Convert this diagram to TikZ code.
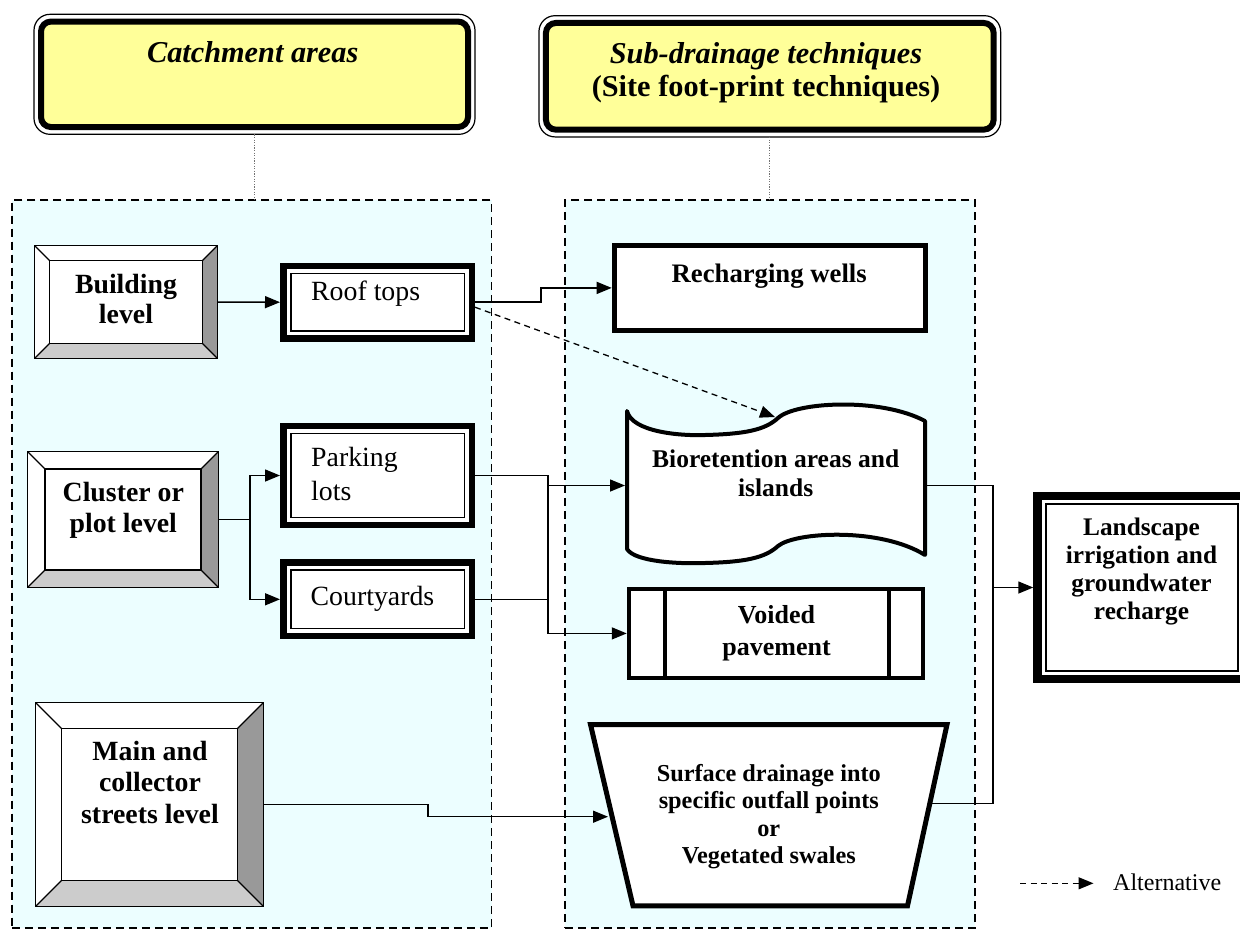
\documentclass[tikz,border=0pt]{standalone}
\usepackage{fontspec}
\setmainfont{Liberation Serif}
\usetikzlibrary{arrows.meta,calc}

% line strut: keeps every text line exactly one \baselineskip tall
\newcommand\lnstrut{\rule[-0.3\baselineskip]{0pt}{\baselineskip}}
\newcommand\fsz[2]{\fontsize{#1}{#2}\selectfont}

\definecolor{zonebg}{RGB}{236,254,255}
\definecolor{hdryellow}{RGB}{255,255,153}
\definecolor{bevdark}{RGB}{153,153,153}
\definecolor{bevlight}{RGB}{204,204,204}

\tikzset{
  x=1pt, y=-1pt,
  % dashed cyan zones
  zone/.style={draw, line width=1.3pt, dash pattern=on 8pt off 5pt, fill=zonebg,
    inner sep=0pt, outer sep=0pt},
  link/.style={draw=black!55, line width=1.2pt, dash pattern=on 1.2pt off 1.4pt},
  % header frames
  hdrbox/.style={draw, line width=6pt, fill=hdryellow, rounded corners=10pt, inner sep=0pt},
  hdrring/.style={draw, line width=1.2pt, rounded corners=16pt, inner sep=0pt, outer sep=0pt},
  % bevelled level boxes
  bevsize/.store in=\bevsz, bevsize=15pt,
  bevelbox/.style={draw, line width=1.3pt, fill=white, inner sep=0pt,
    path picture={
      \fill[bevdark] (path picture bounding box.north east)
        -- (path picture bounding box.south east)
        -- ([shift={(-\bevsz,\bevsz)}]path picture bounding box.south east)
        -- ([shift={(-\bevsz,-\bevsz)}]path picture bounding box.north east) -- cycle;
      \fill[bevlight] (path picture bounding box.south west)
        -- (path picture bounding box.south east)
        -- ([shift={(-\bevsz,\bevsz)}]path picture bounding box.south east)
        -- ([shift={(\bevsz,\bevsz)}]path picture bounding box.south west) -- cycle;
      \draw[line width=1.3pt]
        ([shift={(\bevsz,-\bevsz)}]path picture bounding box.north west)
        rectangle ([shift={(-\bevsz,\bevsz)}]path picture bounding box.south east);
      \draw[line width=1.3pt]
        (path picture bounding box.north west) -- ++(\bevsz,-\bevsz)
        (path picture bounding box.north east) -- ++(-\bevsz,-\bevsz)
        (path picture bounding box.south west) -- ++(\bevsz,\bevsz)
        (path picture bounding box.south east) -- ++(-\bevsz,\bevsz);
    }},
  % thick frame with a thin inner rule
  dblbox/.style={draw, line width=6.5pt, fill=white, inner sep=0pt,
    path picture={\draw[line width=1.5pt]
      ([shift={(7.5pt,-7.5pt)}]path picture bounding box.north west)
      rectangle ([shift={(-7.5pt,7.5pt)}]path picture bounding box.south east);}},
  landbox/.style={draw, line width=8.3pt, fill=white, inner sep=0pt,
    path picture={\draw[line width=1.7pt]
      ([shift={(8.3pt,-8.3pt)}]path picture bounding box.north west)
      rectangle ([shift={(-8.3pt,8.3pt)}]path picture bounding box.south east);}},
  techbox/.style={draw, line width=5pt, fill=white, inner sep=0pt},
  pavebox/.style={draw, line width=4.5pt, fill=white, inner sep=0pt,
    path picture={\draw[line width=4pt]
      ([xshift=36pt]path picture bounding box.north west) -- ([xshift=36pt]path picture bounding box.south west)
      ([xshift=-34pt]path picture bounding box.north east) -- ([xshift=-34pt]path picture bounding box.south east);}},
  anchorbox/.style={inner sep=0pt, outer sep=0pt},
  % texts
  ttl/.style={font=\fsz{30.3}{33.4}\bfseries, align=center, inner sep=0pt},
  lvl/.style={font=\fsz{27.8}{30.5}\bfseries, align=center, inner sep=0pt},
  area/.style={font=\fsz{27.8}{33.3}, align=left, inner sep=0pt, anchor=west},
  tech/.style 2 args={font=\fsz{#1}{#2}\bfseries, align=center, inner sep=0pt},
  % connectors
  conn/.style={line width=1.5pt},
  arr/.style={conn, -{Triangle[length=15pt,width=12pt]}},
  alt/.style={line width=1.3pt, dash pattern=on 6pt off 4.5pt, -{Triangle[length=15pt,width=12pt]}},
}

\begin{document}
\begin{tikzpicture}
\useasboundingbox (0,0) rectangle (1240,930);

% ---- zones ----
\node[zone, minimum width=479.7pt, minimum height=728pt] (zoneA) at (251.8,564) {};
\node[zone, minimum width=410pt, minimum height=728pt] (zoneB) at (770,564) {};

% ---- headers ----
\node[hdrbox, minimum width=427pt, minimum height=105.5pt] (hdrA) at (254.5,74.3) {};
\node[hdrring, minimum width=441pt, minimum height=120pt] (ringA) at (254.5,74.3) {};
\node[hdrbox, minimum width=447.7pt, minimum height=106.7pt] (hdrB) at (769.8,76.3) {};
\node[hdrring, minimum width=461.7pt, minimum height=121.2pt] (ringB) at (769.8,76.3) {};

\draw[link] (ringA.south) -- (ringA.south |- zoneA.north);
\draw[link] (ringB.south) -- (ringB.south |- zoneB.north);

% ---- catchment levels ----
\node[bevelbox, bevsize=15pt, minimum width=183pt, minimum height=113pt] (bldg) at (126,302) {};
\node[bevelbox, bevsize=17.5pt, minimum width=191pt, minimum height=136pt] (clus) at (123,519.5) {};
\node[bevelbox, bevsize=26pt, minimum width=228pt, minimum height=204pt] (main) at (149.5,804.5) {};

% ---- catchment surfaces ----
\node[dblbox, minimum width=188.5pt, minimum height=72.5pt] (roof) at (377.5,302.2) {};
\node[dblbox, minimum width=188.5pt, minimum height=99pt] (park) at (377.5,475.5) {};
\node[dblbox, minimum width=188.5pt, minimum height=73.5pt] (court) at (377.5,599.3) {};

% ---- techniques ----
\node[techbox, minimum width=311.6pt, minimum height=84.2pt] (rw) at (770,287.9) {};

% bioretention: punched-tape outline
\draw[line width=4pt, line join=round, fill=white]
  (627,411) .. controls (632,432) and (680,436) .. (705,435)
  .. controls (745,434) and (765,430) .. (778,418)
  .. controls (795,402) and (880,397) .. (925,421)
  -- (925,555)
  .. controls (880,527) and (795,532) .. (778,546)
  .. controls (765,558) and (745,562) .. (705,563)
  .. controls (680,564) and (635,562) .. (627,549) -- cycle;
\node[anchorbox, minimum width=302pt, minimum height=150pt] (bio) at (776,485.5) {};
\coordinate (biotop) at (775,417);

\node[pavebox, minimum width=293.8pt, minimum height=88.8pt] (vp) at (775.9,633.4) {};

% surface drainage: inverted trapezoid
\draw[line width=5pt, fill=white]
  (590.5,724.5) -- (947,724.5) -- (907.5,905.8) -- (633,905.8) -- cycle;
\coordinate (surfW) at (608,816.7);
\coordinate (surfE) at (932,803.3);

% ---- outcome ----
\node[landbox, minimum width=209.2pt, minimum height=183.4pt] (land) at (1142,587.5) {};

% ---- junction columns ----
\coordinate (jL) at (250,0);
\coordinate (jRoof) at (541,0);
\coordinate (jM) at (548,0);
\coordinate (jS) at (428,0);
\coordinate (jR) at (993,0);

% ---- connectors ----
\draw[arr] (bldg.east) -- (roof.west);
\draw[conn] (clus.east) -- (jL |- clus.east);
\draw[arr] (jL |- clus.east) |- (park.west);
\draw[arr] (jL |- clus.east) |- (court.west);

\draw[arr] (roof.east) -- (jRoof |- roof.east) |- (rw.west);
\draw[alt] ([yshift=-5pt]roof.east) -- (biotop);

\draw[arr] (park.east) -- (jM |- park.east) |- (vp.west);
\draw[arr] (jM |- bio.west) -- (bio.west);
\draw[conn] (court.east) -- (jM |- court.east);

\draw[arr] (main.east) -- (jS |- main.east) |- (surfW);

\draw[conn] (bio.east) -- (jR |- bio.east) -- (jR |- surfE) -- (surfE);
\draw[arr] (jR |- land.west) -- (land.west);

% ---- legend ----
\coordinate (legA) at (1020,883.3);
\coordinate (legB) at (1093.5,883.3);
\draw[alt] (legA) -- (legB);
\node[font=\fsz{24}{28}, inner sep=0pt, anchor=west] (legT) at (1113,885.1) {\lnstrut Alternative};

% ---- texts ----
\node[ttl] (tA) at (252.7,56) {\lnstrut\textit{Catchment areas}};
\node[ttl] (tB) at (766,73.3) {\lnstrut\textit{Sub-drainage techniques}\\\lnstrut(Site foot-print techniques)};

\node[lvl] (tBldg) at (126,302.3) {\lnstrut Building\\\lnstrut level};
\node[lvl] (tClus) at (123.3,510.7) {\lnstrut Cluster or\\\lnstrut plot level};
\node[lvl, font=\fsz{27.8}{31.7}\bfseries] (tMain) at (150,785.4) {\lnstrut Main and\\\lnstrut collector\\\lnstrut streets level};

\node[area] (tRoof) at (311,294.3) {\lnstrut Roof tops};
\node[area] (tPark) at (311,476.7) {\lnstrut Parking\\\lnstrut lots};
\node[area] (tCourt) at (310.5,598.6) {\lnstrut Courtyards};

\node[tech={26.7}{30}] (tRw) at (769.2,276.7) {\lnstrut Recharging wells};
\node[tech={25.5}{29.4}] (tBio) at (775.7,476.1) {\lnstrut Bioretention areas and\\\lnstrut islands};
\node[tech={26}{31.7}] (tVp) at (776.5,632.9) {\lnstrut Voided\\\lnstrut pavement};
\node[tech={24.3}{27.2}] (tSurf) at (768.8,817.1) {\lnstrut Surface drainage into\\\lnstrut specific outfall points\\\lnstrut or\\\lnstrut Vegetated swales};
\node[tech={25.3}{28.3}] (tLand) at (1141.5,571.8) {\lnstrut Landscape\\\lnstrut irrigation and\\\lnstrut groundwater\\\lnstrut recharge};

\end{tikzpicture}
\end{document}
